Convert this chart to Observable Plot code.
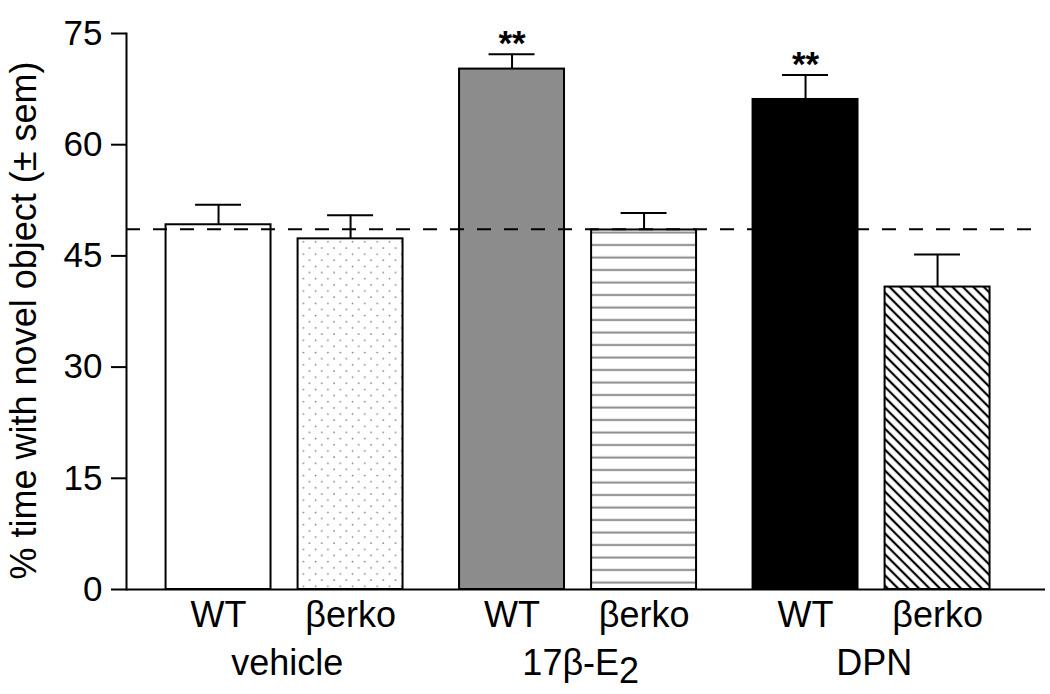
<!DOCTYPE html>
<html>
<head>
<meta charset="utf-8">
<script src="https://cdn.jsdelivr.net/npm/d3@7"></script>
<script src="https://cdn.jsdelivr.net/npm/@observablehq/plot@0.6"></script>
<style>
  html, body { margin: 0; padding: 0; background: #fff; }
  #chart { width: 1050px; height: 694px; }
</style>
</head>
<body>
<div id="chart"></div>
<script>
// ---- data ----
const treatments = ["vehicle", "vehicle", "17β-E2", "17β-E2", "DPN", "DPN"];
const genotypes = ["WT", "βerko", "WT", "βerko", "WT", "βerko"];
const meanValues = [49.2, 47.3, 70.2, 48.5, 66.1, 40.8];
const semValues = [2.7, 3.2, 2.0, 2.3, 3.3, 4.4];
const significance = ["", "", "**", "", "**", ""];
const chanceLevel = 48.6;
const treatmentOrder = ["vehicle", "17β-E2", "DPN"];
const genotypeOrder = ["WT", "βerko"];
const yTicks = [0, 15, 30, 45, 60, 75];
const yLabel = "% time with novel object (± sem)";

// ---- styles ----
const barFills = ["#ffffff", "url(#dots)", "#8c8c8c", "url(#hlines)", "#000000", "url(#hatch)"];
const font = "'Liberation Sans', Arial, Helvetica, sans-serif";

const W = 1050, H = 694;
const mL = 126, mR = 43.5, mT = 33, mB = 105;
const facetW = (W - mL - mR) / treatmentOrder.length;

const rows = treatments.map((t, i) => ({
  treatment: t,
  genotype: genotypes[i],
  mean: meanValues[i],
  upper: meanValues[i] + semValues[i],
  star: significance[i],
  fill: barFills[i]
}));
const firstFacet = [{treatment: treatmentOrder[0], chance: chanceLevel, zero: 0, label: yLabel}];

const chart = Plot.plot({
  width: W,
  height: H,
  marginLeft: mL,
  marginRight: mR,
  marginTop: mT,
  marginBottom: mB,
  style: {fontFamily: font, fontSize: "35px", color: "#000", background: "#fff", overflow: "visible"},
  fx: {domain: treatmentOrder, padding: 0, round: false, label: null},
  x: {domain: genotypeOrder, paddingInner: 0.205, paddingOuter: 0.214, align: 0.7, round: false, label: null},
  y: {domain: [0, 75], label: null},
  color: {type: "identity"},
  marks: [
    Plot.barY(rows, {fx: "treatment", x: "genotype", y: "mean", fill: "fill", stroke: "#000", strokeWidth: 2}),
    Plot.ruleX(rows, {fx: "treatment", x: "genotype", y1: "mean", y2: "upper", stroke: "#000", strokeWidth: 2}),
    Plot.tickY(rows, {fx: "treatment", x: "genotype", y: "upper", stroke: "#000", strokeWidth: 2, insetLeft: 29.5, insetRight: 29.5}),
    Plot.text(rows.filter(d => d.star), {fx: "treatment", x: "genotype", y: "upper", text: "star", fontSize: 35, fontWeight: "bold", lineAnchor: "middle", dy: -10}),
    // dashed reference line spanning all groups
    Plot.ruleY(firstFacet, {fx: "treatment", y: "chance", stroke: "#000", strokeWidth: 2, strokeDasharray: "14,13", insetRight: -(1032 - mL - facetW)}),
    // baseline (x axis line)
    Plot.ruleY(firstFacet, {fx: "treatment", y: "zero", stroke: "#000", strokeWidth: 2, insetRight: -(1045 - mL - facetW)}),
    // y axis line
    Plot.frame({anchor: "left", facetAnchor: "left", stroke: "#000", strokeWidth: 2}),
    Plot.axisY({ticks: yTicks, tickSize: 15, tickPadding: 9, fontSize: 35, strokeWidth: 2, label: null}),
    Plot.axisX({tickSize: 0, tickPadding: 12, fontSize: 36, label: null}),
    Plot.axisFx({anchor: "bottom", tickSize: 0, tickPadding: 60, fontSize: 36, label: null, dx: 14}),
    // rotated y label
    Plot.text(firstFacet, {fx: "treatment", text: "label", frameAnchor: "left", textAnchor: "middle", rotate: -90, fontSize: 36, dx: -102, dy: 9})
  ]
});

// pattern fills
chart.insertAdjacentHTML("afterbegin", `
<defs>
  <pattern id="dots" patternUnits="userSpaceOnUse" width="12.3" height="12.3">
    <circle cx="2" cy="2" r="0.9" fill="#7a7a7a"/>
    <circle cx="8.15" cy="8.15" r="0.9" fill="#7a7a7a"/>
  </pattern>
  <pattern id="hlines" patternUnits="userSpaceOnUse" width="12" height="12.5">
    <rect width="12" height="12.5" fill="#fff"/>
    <line x1="0" x2="12" y1="7.5" y2="7.5" stroke="#8a8a8a" stroke-width="2"/>
  </pattern>
  <pattern id="hatch" patternUnits="userSpaceOnUse" width="7.4" height="7.4" patternTransform="rotate(45)">
    <rect width="7.4" height="7.4" fill="#fff"/>
    <line x1="0" x2="7.4" y1="3.7" y2="3.7" stroke="#000" stroke-width="2.2"/>
  </pattern>
</defs>`);

// subscript in 17β-E2
chart.querySelectorAll("text").forEach(t => {
  if (t.textContent === "17β-E2") {
    t.innerHTML = '17β-E<tspan dy="0.22em">2</tspan>';
  }
});

document.getElementById("chart").appendChild(chart);
</script>
</body>
</html>
